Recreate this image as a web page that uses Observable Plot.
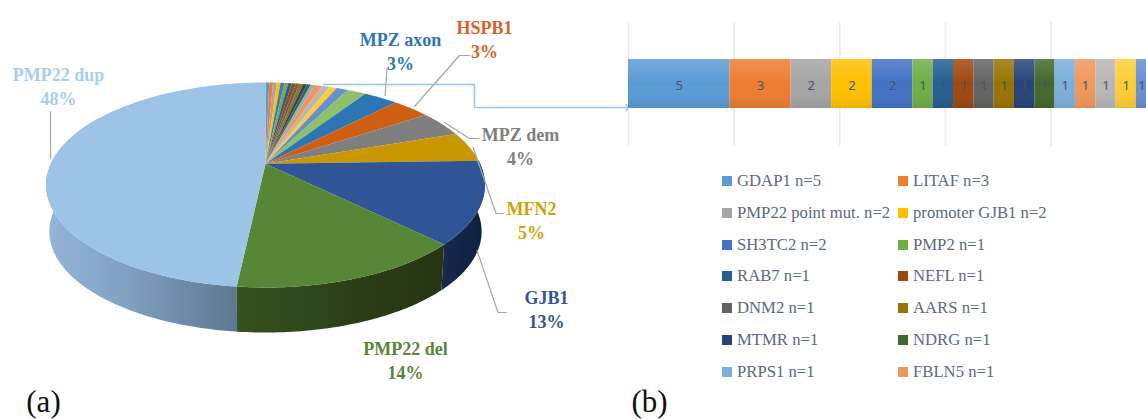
<!DOCTYPE html>
<html>
<head>
<meta charset="utf-8">
<script src="https://cdn.jsdelivr.net/npm/d3@7"></script>
<script src="https://cdn.jsdelivr.net/npm/@observablehq/plot@0.6"></script>
<style>
html,body{margin:0;padding:0;background:#fff;overflow:hidden;width:1146px;height:419px}
#wrap{position:relative;width:1146px;height:419px;overflow:hidden}
#pie,#bar{position:absolute;top:0}
#pie{left:0}
#bar{left:628px;background:transparent}
#pie svg{background:#fff}
#bar svg{background:transparent}
.legend{position:absolute;font:16.7px "Liberation Serif",serif;color:#5b6a82;white-space:nowrap;line-height:20px;height:20px;display:flex;align-items:center}
.legend i{display:inline-block;width:10px;height:10px;margin-right:5px;flex:none}
</style>
</head>
<body>
<div id="wrap"><div id="pie"></div><div id="bar"></div><div id="legend"></div></div>
<script>
// ---- data ----
const pieNames = ["s1","s2","s3","s4","s5","s6","s7","s8","s9","s10","s11","s12","s13","s14","s15","s16","s17","s18",
  "MPZ axon","HSPB1","MPZ dem","MFN2","GJB1","PMP22 del","PMP22 dup"];
const pieValues = [1,1,1,1,1,1,1,1,1,1,1,1,1,2,2,2,3,5,9,10,12,14,38,42,142];
const pieColors = ["#5b9bd5","#ed7d31","#a5a5a5","#ffc000","#4472c4","#70ad47","#255e91","#9e480e","#636363","#997300","#264478","#43682b",
  "#7cafdd","#f1975a","#b7b7b7","#ffcd33","#698ed0","#8cc168","#2e75b6","#cf5f10","#7f7f7f","#c99700","#2f5597","#578637","#9dc3e6"];
const labelNames = ["PMP22 dup","MPZ axon","HSPB1","MPZ dem","MFN2","GJB1","PMP22 del"];
const labelPercents = ["48%","3%","3%","4%","5%","13%","14%"];
const labelColors = ["#a9cdee","#2e75b6","#d9622b","#7f7f7f","#d4a106","#2f5597","#578637"];

const barValues = [5,3,2,2,2,1,1,1,1,1,1,1,1,1,1,1,1];
const barColors = ["#5b9bd5","#ed7d31","#a5a5a5","#ffc000","#4472c4","#70ad47","#255e91","#9e480e","#636363","#997300","#264478","#43682b",
  "#7cafdd","#f1975a","#b7b7b7","#ffcd33","#698ed0"];
const barTotal = 26;
const barGrid = [0,0.2,0.4,0.6,0.8,1];

const legendNames = ["GDAP1 n=5","LITAF n=3","PMP22 point mut. n=2","promoter GJB1 n=2","SH3TC2 n=2","PMP2 n=1","RAB7 n=1","NEFL n=1","DNM2 n=1","AARS n=1","MTMR n=1","NDRG n=1","PRPS1 n=1","FBLN5 n=1"];

// ---- layout of the picture ----
const W = 1146, H = 419;
const cx = 265, cyTop = 163.3, cyBottom = 210.2, bottomScale = 0.985;
const A = 214.7, a = 98.1, c = -0.2068;
const labelAt = [[58,85],[400,50],[484,38],[520,145],[531,219],[546,308],[405,359]];
const leaders = [
  [[50,111],[50,158]],
  [[386.5,68],[384.6,95]],
  [[469,55],[459,55],[414,106]],
  [[478,138],[469,138],[444,122]],
  [[503,213],[495.6,213],[472.6,147]],
  [[506,312],[497.5,312],[476.5,250]]
];
const connector = [[323,84],[474,84],[474,107],[627,107]];

// ---- geometry of the tilted pie, derived from the values ----
const total = d3.sum(pieValues);
let run = 0;
const slices = pieValues.map((v,i)=>{
  const s = {i,name:pieNames[i],color:pieColors[i],t0:run/total*360,t1:(run+v)/total*360};
  run += v; return s;
});
function proj(t,face){
  const r = t*Math.PI/180, u = Math.sin(r), v = -Math.cos(r), d = 1+c*v;
  const x = A*u/d, y = a*v/d;
  return face==="top" ? [cx+x,cyTop+y] : [cx+bottomScale*x,cyBottom+bottomScale*y];
}
function arc(t0,t1,face){
  const n = Math.max(2,Math.ceil(Math.abs(t1-t0)));
  return d3.range(n+1).map(k=>proj(t0+(t1-t0)*k/n,face));
}
const fillLine = (pts,fill,extra={}) => Plot.line(pts,{x:d=>d[0],y:d=>d[1],fill,stroke:"none",curve:"linear",...extra});
const strokeLine = (pts,stroke,strokeWidth,extra={}) => Plot.line(pts,{x:d=>d[0],y:d=>d[1],stroke,strokeWidth,curve:"linear",...extra});

const defs = d3.create("svg:g");
const d = defs.append("defs");
function grad(id,stops){
  const g = d.append("linearGradient").attr("id",id);
  stops.forEach(([o,col])=>g.append("stop").attr("offset",o).attr("stop-color",col));
}
grad("wallDup",[[0,"#93b6d8"],[0.45,"#7f9fc0"],[1,"#5f7690"]]);
grad("wallDel",[[0,"#35521f"],[0.6,"#2a3e17"],[1,"#253514"]]);
grad("wallGjb",[[0,"#162a4e"],[1,"#10203f"]]);

const wallFill = {"PMP22 dup":"url(#wallDup)","PMP22 del":"url(#wallDel)","GJB1":"url(#wallGjb)"};
const sliceByName = n => slices.find(s=>s.name===n);
function wall(name){
  const s = sliceByName(name);
  const t1 = name==="PMP22 dup" ? 300 : s.t1;
  const t0 = name==="GJB1" ? 88 : s.t0;
  return fillLine([...arc(t0,t1,"top"),...arc(t1,t0,"bottom")],wallFill[name]);
}

const labels = labelNames.map((n,i)=>({text:n+"\n"+labelPercents[i],color:labelColors[i],x:labelAt[i][0],y:labelAt[i][1]}));
const dup = sliceByName("PMP22 dup");

const piePlot = Plot.plot({
  width:W,height:H,margin:0,
  x:{domain:[0,W],range:[0,W],axis:null},
  y:{domain:[0,H],range:[0,H],axis:null},
  style:{background:"#fff"},
  marks:[
    ()=>defs.node(),
    fillLine(arc(0,360,"bottom").map(p=>[p[0],p[1]+7]),"#a9a9a9",{ariaLabel:"pie-shadow"}),
    wall("PMP22 dup"),wall("PMP22 del"),wall("GJB1"),
    ...slices.map(s=>fillLine([[cx,cyTop],...arc(s.t0,s.t1,"top")],s.color)),
    strokeLine(arc(dup.t0,dup.t0+110,"top"),"#c6e4ff",3.5,{ariaLabel:"pie-rim"}),
    ...leaders.map(l=>strokeLine(l,"#a6a6a6",1.2)),
    strokeLine(connector,"#9dc3e6",1.5,{markerEnd:"arrow"}),
    Plot.text(labels,{x:"x",y:"y",text:"text",fill:"color",fontFamily:"Liberation Serif",fontWeight:"bold",fontSize:18,lineHeight:1.33,textAnchor:"middle"}),
    Plot.text(["(a)"],{x:[43],y:[402],text:d=>d,fill:"#111",fontFamily:"Liberation Serif",fontSize:31,textAnchor:"middle"}),
    Plot.text(["(b)"],{x:[649],y:[402],text:d=>d,fill:"#111",fontFamily:"Liberation Serif",fontSize:31,textAnchor:"middle"})
  ],
  color:{type:"identity"}
});
d3.select(piePlot).selectAll('g[aria-label="pie-shadow"]').style("filter","blur(5px)").style("opacity",0.7);
d3.select(piePlot).selectAll('g[aria-label="pie-rim"]').style("filter","blur(0.8px)");
document.getElementById("pie").append(piePlot);

// ---- stacked bar ----
let barRun = 0;
const segs = barValues.map((v,i)=>{const s={x1:barRun,x2:barRun+v,v,color:barColors[i]};barRun+=v;return s;});
const barDefs = d3.create("svg:g");
const sheen = barDefs.append("defs").append("linearGradient").attr("id","sheen").attr("x1",0).attr("x2",0).attr("y1",0).attr("y2",1);
[[0,"#fff",0.16],[0.5,"#fff",0],[1,"#000",0.08]].forEach(([o,col,op])=>sheen.append("stop").attr("offset",o).attr("stop-color",col).attr("stop-opacity",op));

const barPlot = Plot.plot({
  width:518,height:146,margin:0,
  x:{domain:[0,25.5],range:[0,518],axis:null},
  y:{domain:[0,146],range:[0,146],axis:null},
  style:{background:"transparent"},
  color:{type:"identity"},
  marks:[
    ()=>barDefs.node(),
    Plot.ruleX(barGrid,{x:d=>d*barTotal,y1:22,y2:146,stroke:"#e8eaef",strokeWidth:1.5}),
    Plot.rect(segs,{x1:"x1",x2:"x2",y1:59,y2:108,fill:"color",clip:true}),
    Plot.rect(segs,{x1:"x1",x2:"x2",y1:59,y2:108,fill:"url(#sheen)",clip:true}),
    Plot.text(segs,{x:d=>Math.min((d.x1+d.x2)/2,25.28),y:85,text:"v",fill:"#44546a",fontFamily:"Noto Sans",fontSize:13})
  ]
});
document.getElementById("bar").append(barPlot);

// ---- legend ----
const colX = [722,898], rowY0 = 171, rowStep = 31.75;
const lg = document.getElementById("legend");
legendNames.forEach((n,i)=>{
  const e = document.createElement("div");
  e.className="legend";
  e.style.left = colX[i%2]+"px";
  e.style.top = (rowY0+Math.floor(i/2)*rowStep)+"px";
  const sw = document.createElement("i");
  sw.style.background = barColors[i];
  e.append(sw,document.createTextNode(n));
  lg.append(e);
});
</script>
</body>
</html>
